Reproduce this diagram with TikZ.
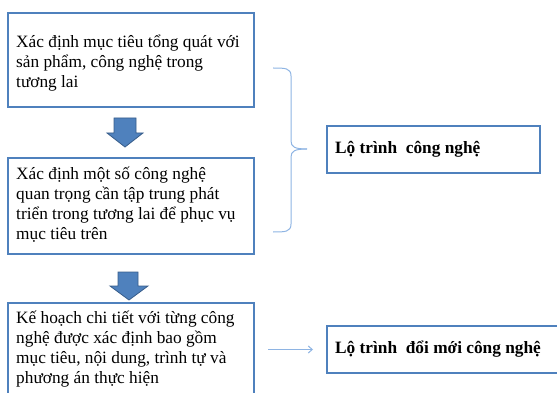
\documentclass[tikz,border=0pt]{standalone}
\usepackage{fontspec}
\setmainfont{Liberation Serif}
\usetikzlibrary{arrows.meta,calc}
\definecolor{boxblue}{HTML}{4F81BD}
\definecolor{arrowedge}{HTML}{385D8A}
\definecolor{lightline}{HTML}{8EB4E3}
\tikzset{
  stepbox/.style={draw=boxblue, line width=2pt, fill=white, inner sep=0pt,
    minimum width=246pt, anchor=center},
  steptext/.style={align=left, anchor=west, inner sep=0pt,
    font=\fontsize{17.3}{20}\selectfont},
  roadbox/.style={draw=boxblue, line width=2pt, fill=white, inner sep=0pt,
    minimum height=47pt, anchor=west},
  roadtext/.style={anchor=west, inner sep=0pt,
    font=\fontsize{17.3}{20}\selectfont\bfseries},
  blockarrow/.style={fill=boxblue, draw=arrowedge, line width=0.8pt, line join=miter},
  thinline/.style={draw=lightline, line width=1pt}
}
\begin{document}
\begin{tikzpicture}[x=1pt,y=-1pt]
\useasboundingbox (0,0) rectangle (557,393);
\clip (0,0) rectangle (557,393);

% left column of steps
\node[stepbox, minimum height=94pt] (b1) at (131,60) {};
\node[steptext] (t1) at ($(b1.west)+(9,3)$)
  {Xác định mục tiêu tổng quát với\\sản phẩm, công nghệ trong\\tương lai};
\node[stepbox, minimum height=96pt] (b2) at (131,206) {};
\node[steptext] (t2) at ($(b2.west)+(9,-1)$)
  {Xác định một số công nghệ\\quan trọng cần tập trung phát\\triển trong tương lai để phục vụ\\mục tiêu trên};
\node[stepbox, minimum height=93pt] (b3) at (131,349.5) {};
\node[steptext] (t3) at ($(b3.west)+(9,0)$)
  {Kế hoạch chi tiết với từng công\\nghệ được xác định bao gồm\\mục tiêu, nội dung, trình tự và\\phương án thực hiện};

% block arrows between the steps
\draw[blockarrow] (114,118) -- (136,118) -- (136,133) -- (143,133) -- (125,147)
  -- (107,133) -- (114,133) -- cycle;
\draw[blockarrow] (118,272) -- (138,272) -- (138,286) -- (148,286) -- (129,300)
  -- (110,286) -- (118,286) -- cycle;

% roadmap boxes
\node[roadbox, minimum width=213pt] (r1) at (326,149.5) {};
\node[roadtext] (rt1) at ($(r1.west)+(9,0)$) {Lộ trình\ \ công nghệ};
\node[roadbox, minimum width=240pt] (r2) at (326,349.5) {};
\node[roadtext] (rt2) at ($(r2.west)+(9,0)$) {Lộ trình\ \ đổi mới công nghệ};

% brace grouping the first two steps
\coordinate (bt) at (273,68);
\coordinate (bb) at (273,232);
\coordinate (bm) at (307,149);
\draw[thinline] (bt) .. controls (285,68) and (291,68) .. (291,76)
  -- (291,141) .. controls (291,147) and (295,149) .. (bm);
\draw[thinline] (bb) .. controls (285,232) and (291,232) .. (291,224)
  -- (291,157) .. controls (291,151) and (295,149) .. (bm);

% connector to the second roadmap
\draw[thinline, -{Straight Barb[length=4pt,width=7pt]}]
  ($(b3.east)+(13,0)$) -- ($(r2.west)+(-13,0)$);
\end{tikzpicture}
\end{document}
